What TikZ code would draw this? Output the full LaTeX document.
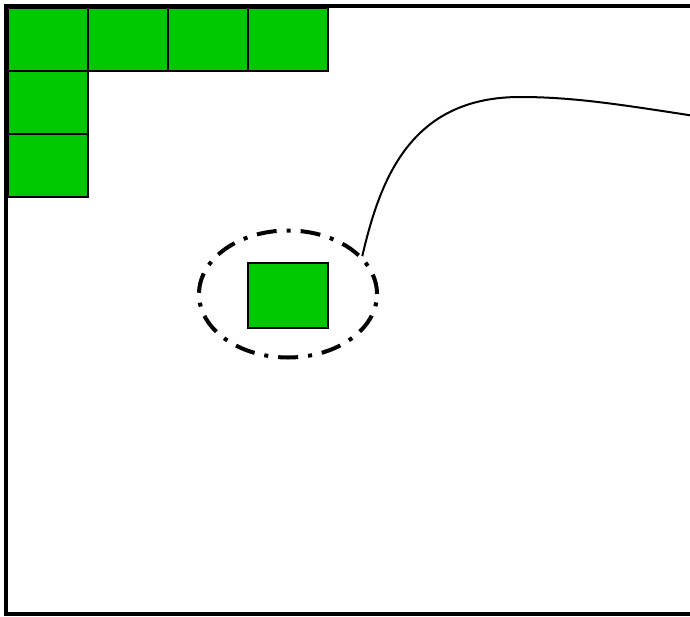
\documentclass[tikz,border=0pt]{standalone}
\usepackage{tikz}
\usetikzlibrary{shapes.geometric, positioning}
\definecolor{cellgreen}{RGB}{0,200,0}

\begin{document}
\begin{tikzpicture}[x=1pt, y=-1pt, node distance=0pt,
    cell/.style={draw, fill=cellgreen, line width=2pt, minimum width=80pt, minimum height=63pt, inner sep=0pt, outer sep=0pt}]
    \useasboundingbox (0,0) rectangle (690,616);
    \clip (0,0) rectangle (690,616);
    \draw[line width=4pt] (5.5,6) rectangle (760,614);
    % L-shaped row of cells
    \node[cell, anchor=north west] (c1) at (8,8) {};
    \node[cell, right=of c1] (c2) {};
    \node[cell, right=of c2] (c3) {};
    \node[cell, right=of c3] (c4) {};
    \node[cell, below=of c1] (c5) {};
    \node[cell, below=of c5] (c6) {};
    % single cell with its ring
    \node[cell, minimum height=65pt] (item) at (288,295) {};
    \node[draw, ellipse, line width=4pt, dash pattern=on 20pt off 10pt on 4pt off 10pt,
          minimum width=178pt, minimum height=127pt] (ring) at (288,294) {};
    \coordinate (tail) at (760,126);
    \draw[line width=2pt] (ring.27) .. controls (380,180) and (410,97) .. (520,97)
        .. controls (585,97) and (640,108) .. (tail);
\end{tikzpicture}
\end{document}
